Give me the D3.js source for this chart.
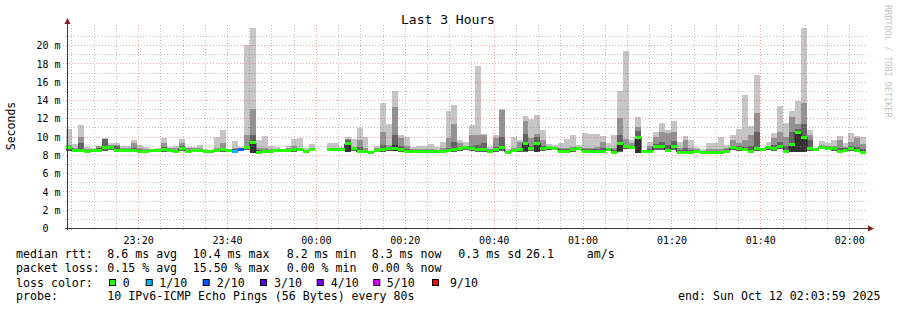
<!DOCTYPE html>
<html><head><meta charset="utf-8">
<script src="https://cdn.jsdelivr.net/npm/d3@7"></script>
<style>
body{margin:0;background:#fff}
svg text{font-family:"DejaVu Sans Mono",monospace;white-space:pre}
</style>
</head><body><svg id="c" width="897" height="310"></svg>
<script>
// ---- data (ms) : one value per 80 s sample, null = no data ----
const median = [8.75,8.45,8.5,8.4,8.45,8.5,8.75,8.8,8.5,8.45,
8.45,8.45,8.35,8.35,8.45,8.45,8.55,8.45,8.35,8.65,
8.4,8.5,8.45,8.42,8.42,8.45,8.55,8.45,8.38,8.58,
8.75,9.3,8.25,8.42,8.35,8.45,8.45,8.45,8.55,8.55,
8.42,8.6,null,null,8.6,8.6,8.6,9.2,8.65,8.35,
8.35,8.3,8.45,8.55,8.7,8.7,8.55,8.35,8.35,8.35,
8.35,8.35,8.35,8.42,8.5,8.6,8.7,8.8,8.7,8.55,
8.55,8.35,8.55,8.8,8.3,8.52,8.55,9.2,8.65,9.2,
8.7,8.8,8.7,8.42,8.42,8.55,8.72,8.42,8.42,8.4,
8.42,8.6,8.28,9.2,8.9,8.8,9.95,8.35,8.35,8.9,
8.9,8.52,8.9,8.3,8.3,8.3,8.35,8.3,8.3,8.3,
8.3,8.42,8.8,8.7,8.6,8.42,8.7,8.55,8.8,8.7,
8.9,8.35,9.1,10.4,9.95,8.7,8.62,8.85,8.7,8.65,
8.42,8.52,8.7,8.52,8.3];
const lossPings = [0,0,0,0,0,0,0,0,0,0, 0,0,0,0,0,0,0,0,0,0, 0,0,0,0,0,0,0,0,0.45,1.55,
0,0,0,0,0,0,0,0,0,0, 0,0,null,null,0,0,0,0,0,0, 0,0,0,0,0,0,0,0,0,0,
0,0,0,0,0,0,0,0,0,0, 0,0,0,0,0,0,0,0,0,0, 0,0,0,0,0,0,0,0,0,0,
0,0,0,0,0,0,0,0,0,0, 0,0,0,0,0,0,0,0,0,0, 0,0,0,0,0,0,0,0,0,0,
0,0,0,0,0,0,0,0,0,0, 0,0,0,0,0];
const smokeBottom = [8.4,8.35,8.35,8.3,8.3,8.4,8.45,8.5,8.35,8.35,
8.35,8.3,8.25,8.25,8.35,8.35,8.35,8.3,8.25,8.4,
8.3,8.35,8.35,8.3,8.25,8.3,8.35,8.3,8.3,8.4,
8.5,8.25,8.2,8.3,8.25,8.35,8.3,8.3,8.35,8.4,
8.3,8.45,null,null,8.45,8.4,8.4,8.35,8.45,8.25,
8.25,8.2,8.3,8.3,8.45,8.4,8.35,8.25,8.25,8.25,
8.25,8.25,8.25,8.3,8.3,8.35,8.45,8.55,8.45,8.35,
8.35,8.25,8.35,8.45,8.2,8.35,8.35,8.35,8.4,8.35,
8.45,8.55,8.5,8.3,8.3,8.35,8.5,8.3,8.3,8.3,
8.3,8.4,8.2,8.3,8.6,8.6,8.2,8.25,8.25,8.55,
8.55,8.35,8.55,8.2,8.2,8.2,8.25,8.2,8.2,8.2,
8.2,8.3,8.5,8.45,8.4,8.3,8.4,8.4,8.55,8.45,
8.6,8.25,8.3,8.3,8.3,8.45,8.5,8.6,8.5,8.45,
8.3,8.35,8.45,8.35,8.2];
const smokeTop1 = [10.8,9.2,11.25,8.9,8.8,8.95,9.8,9.3,9.3,9.0,
9.0,9.65,9.1,8.9,8.6,8.8,9.85,8.9,8.95,9.75,
8.9,8.9,9.1,8.65,8.55,9.9,10.7,8.65,9.55,8.9,
20.0,21.85,9.6,10.05,9.0,8.9,8.55,9.0,9.75,9.85,
8.75,9.2,null,null,9.25,9.25,8.9,9.95,9.75,10.95,
9.9,8.4,9.0,13.7,11.35,15.0,10.2,10.0,8.9,8.95,
8.95,9.2,8.9,9.45,12.8,13.45,9.6,9.45,11.25,17.7,
10.3,8.9,10.2,13.0,8.6,10.0,9.6,12.3,11.9,12.4,
10.75,9.2,9.1,9.35,9.75,10.15,9.1,10.4,10.3,10.3,
10.05,9.25,10.15,15.0,19.35,9.6,12.1,8.45,9.45,10.45,
11.45,10.75,11.7,9.4,10.1,9.6,8.8,8.6,9.25,9.25,
10.0,9.05,10.15,10.85,14.55,11.2,16.7,8.7,9.45,10.4,
13.35,11.45,12.75,13.9,21.85,10.75,8.7,9.5,9.25,9.6,
10.05,9.25,10.35,10.05,9.95];
const smokeTop2 = [9.1,8.7,9.95,8.6,8.6,8.95,9.75,9.1,9.05,8.7,
8.8,9.25,8.7,8.6,8.55,8.6,9.25,8.7,8.7,9.3,
8.7,8.7,8.75,8.55,8.5,8.8,9.3,8.55,8.8,8.7,
10.15,13.0,8.8,8.75,8.6,8.6,8.5,8.75,9.0,8.75,
8.55,8.8,null,null,8.8,8.8,8.75,9.75,8.9,9.65,
8.7,8.35,8.7,10.5,9.1,13.25,9.85,8.95,8.6,8.6,
8.6,8.6,8.55,8.7,9.8,11.4,9.25,9.0,10.15,10.2,
10.2,8.6,9.85,12.95,8.4,8.8,9.4,11.65,9.8,10.25,
9.6,8.95,8.85,8.75,8.8,8.9,8.9,8.8,8.8,8.9,
9.45,8.8,8.75,12.05,9.7,9.35,11.0,8.4,9.0,9.95,
10.55,10.35,10.45,8.7,9.6,8.7,8.6,8.45,8.6,8.6,
8.6,8.8,9.6,9.25,9.6,10.2,12.6,8.62,9.0,9.8,
10.55,10.0,12.1,11.4,13.65,10.2,8.66,9.1,8.95,8.95,
9.6,8.9,9.45,9.8,9.2];
const smokeTop3 = [8.9,8.55,9.3,8.5,8.5,8.8,9.7,9.0,9.0,8.55,
8.6,8.8,8.5,8.45,8.5,8.5,8.9,8.55,8.5,9.0,
8.5,8.6,8.6,8.5,8.47,8.6,8.8,8.5,8.6,8.65,
9.0,10.15,8.5,8.55,8.45,8.5,8.47,8.6,8.75,8.65,
8.5,8.7,null,null,8.65,8.7,8.65,9.6,8.75,8.9,
8.5,8.32,8.55,9.1,8.9,10.15,9.0,8.6,8.45,8.45,
8.45,8.45,8.45,8.5,8.8,9.45,8.9,8.9,9.0,9.1,
9.3,8.45,8.9,10.0,8.35,8.6,8.8,10.3,9.0,9.9,
9.0,8.9,8.8,8.6,8.6,8.7,8.8,8.6,8.6,8.6,
8.8,8.7,8.5,10.15,9.1,9.0,10.6,8.38,8.6,9.2,
9.4,9.1,9.5,8.5,8.8,8.5,8.45,8.38,8.45,8.45,
8.45,8.6,9.0,9.0,8.9,9.0,10.5,8.58,8.9,9.1,
9.4,9.0,10.55,10.8,11.4,9.6,8.64,9.0,8.85,8.8,
8.8,8.7,9.0,8.9,8.6];
// darkest smoke band, only where it shows outside the median band
const coreSample = [31,47,55,77,79,93,96,122,123,124];
const coreLow    = [8.25,8.35,8.45,8.45,8.35,8.4,8.25,8.3,8.35,8.3];
const coreHigh   = [9.55,9.05,9.05,9.1,9.15,9.1,9.85,9.0,10.3,9.85];

const yTickValues = [0,2,4,6,8,10,12,14,16,18,20];
const yTickLabels = ["0  ","2 m","4 m","6 m","8 m","10 m","12 m","14 m","16 m","18 m","20 m"];
const timeTickLabels = ["23:20","23:40","00:00","00:20","00:40","01:00","01:20","01:40","02:00"];
const lossLevels = [0,1,2,3,4,5,9];
const lossLabels = ["0","1/10","2/10","3/10","4/10","5/10","9/10"];
const lossColors = ["#26ff00","#00b8ff","#0059ff","#5e00ff","#7e00ff","#dd00ff","#ff0000"];

// ---- scales ----
const N = median.length;
const stepMs = 80000;
const sampleStart = new Date(2025,9,11,23,3,50).getTime();
const tAt = i => new Date(sampleStart + i*stepMs);
const x = d3.scaleTime().domain([new Date(2025,9,11,23,4,0), new Date(2025,9,12,2,4,0)]).range([67,867]);
const y = d3.scaleLinear().domain([0,22.2]).range([228,25]);
const X0 = 67, X1 = 867, Y0 = 228, YT = 25;

const svg = d3.select("#c");
svg.append("rect").attr("width",897).attr("height",310).attr("fill","#fff");

// ---- smoke ----
const gData = svg.append("g").attr("shape-rendering","crispEdges");
const idx = d3.range(N).filter(i => median[i] != null);
[[smokeTop1,"#c6c6c6"],[smokeTop2,"#939393"],[smokeTop3,"#626262"]].forEach(([arr,col]) => {
  gData.append("g").selectAll("rect").data(idx).join("rect")
    .attr("x", i => x(tAt(i))).attr("width", i => x(tAt(i+1)) - x(tAt(i)))
    .attr("y", i => y(arr[i])).attr("height", i => Math.max(0, y(smokeBottom[i]) - y(arr[i])))
    .attr("fill", col);
});
gData.append("g").selectAll("rect").data(d3.range(coreSample.length)).join("rect")
  .attr("x", k => x(tAt(coreSample[k]))).attr("width", k => x(tAt(coreSample[k]+1)) - x(tAt(coreSample[k])))
  .attr("y", k => y(coreHigh[k])).attr("height", k => y(coreLow[k]) - y(coreHigh[k]))
  .attr("fill", "#323232");

// ---- grid (drawn over the smoke as rrdtool does) ----
const gGrid = svg.append("g").attr("shape-rendering","crispEdges");
const minorY = d3.range(1,22,2);
gGrid.selectAll(".hmin").data(minorY).join("line")
  .attr("x1",X0-2).attr("x2",X1).attr("y1",d=>Math.round(y(d))+0.5).attr("y2",d=>Math.round(y(d))+0.5)
  .attr("stroke","rgba(140,140,140,0.55)").attr("stroke-dasharray","1,2");
gGrid.selectAll(".hmaj").data(yTickValues.slice(1)).join("line")
  .attr("x1",X0-4).attr("x2",X1).attr("y1",d=>Math.round(y(d))+0.5).attr("y2",d=>Math.round(y(d))+0.5)
  .attr("stroke","rgba(224,80,80,0.5)").attr("stroke-dasharray","1,2");
const minorT = d3.timeMinute.every(5).range(x.domain()[0], x.domain()[1]).filter(d => d.getMinutes() % 20 !== 0);
gGrid.selectAll(".vmin").data(minorT).join("line")
  .attr("x1",d=>Math.round(x(d))+0.5).attr("x2",d=>Math.round(x(d))+0.5).attr("y1",YT).attr("y2",Y0+2)
  .attr("stroke","rgba(140,140,140,0.55)").attr("stroke-dasharray","1,2");
const tickDates = timeTickLabels.map(s => { const [h,m] = s.split(":").map(Number); return new Date(2025,9,h>=12?11:12,h,m,0); });
gGrid.selectAll(".vmaj").data(tickDates).join("line")
  .attr("x1",d=>Math.round(x(d))+0.5).attr("x2",d=>Math.round(x(d))+0.5).attr("y1",YT).attr("y2",Y0+4)
  .attr("stroke","rgba(224,80,80,0.5)").attr("stroke-dasharray","1,2");

// ---- median line + loss coloured band ----
const pts = [];
idx.forEach((i,k) => {
  pts.push({t:tAt(i), v:median[i]});
  if (k === idx.length-1 || idx[k+1] !== i+1) { pts.push({t:tAt(i+1), v:median[i]}); pts.push(null); }
});
svg.append("path").attr("d", d3.line().defined(d=>d!==null).x(d=>x(d.t)).y(d=>y(d.v)).curve(d3.curveStepAfter)(pts))
  .attr("fill","none").attr("stroke","#202020").attr("stroke-width",1);
const lossColor = l => { for (let k=0;k<lossLevels.length;k++) if (l <= lossLevels[k]) return lossColors[k]; return lossColors[lossColors.length-1]; };
svg.append("g").attr("shape-rendering","crispEdges").selectAll("rect").data(idx).join("rect")
  .attr("x", i => x(tAt(i))).attr("width", i => x(tAt(i+1)) - x(tAt(i)))
  .attr("y", i => y(median[i]) - 1.5).attr("height", 3)
  .attr("fill", i => lossColor(lossPings[i]));

// ---- axes ----
const ax = svg.append("g").attr("transform",`translate(0,${Y0})`)
  .call(d3.axisBottom(x).tickValues(tickDates).tickFormat(d3.timeFormat("%H:%M")).tickSize(0).tickPadding(9));
ax.select(".domain").remove();
ax.selectAll("text").attr("font-size",10).attr("fill","#000").attr("font-family","DejaVu Sans Mono");
const ay = svg.append("g").attr("transform",`translate(${X0-6.5},0)`)
  .call(d3.axisLeft(y).tickValues(yTickValues).tickFormat((d,k)=>yTickLabels[k]).tickSize(0).tickPadding(0));
ay.select(".domain").remove();
ay.selectAll("text").attr("font-size",10).attr("fill","#000").attr("font-family","DejaVu Sans Mono").attr("dy","0.36em");

svg.append("line").attr("x1",X0+0.5).attr("x2",X0+0.5).attr("y1",Y0+2).attr("y2",YT-3)
  .attr("stroke","#3a3a3a").attr("shape-rendering","crispEdges");
svg.append("line").attr("x1",X0-2).attr("x2",X1+2).attr("y1",Y0+0.5).attr("y2",Y0+0.5)
  .attr("stroke","#3a3a3a").attr("shape-rendering","crispEdges");
svg.append("path").attr("d",`M${X0+0.5},${YT-7} L${X0+3.5},${YT-1} L${X0-2.5},${YT-1} Z`).attr("fill","#801f1f");
svg.append("path").attr("d",`M${X1+7},${Y0+0.5} L${X1+1},${Y0-2.5} L${X1+1},${Y0+3.5} Z`).attr("fill","#801f1f");

// ---- texts ----
svg.append("text").attr("x",448).attr("y",24).attr("text-anchor","middle").attr("font-size",13).text("Last 3 Hours");
svg.append("text").attr("transform","translate(15,126) rotate(-90)").attr("text-anchor","middle").attr("font-size",11.5).text("Seconds");
svg.append("text").attr("transform","translate(885,5) rotate(90)").attr("font-size",8.5).attr("fill","#c4c4c4").text("RRDTOOL / TOBI OETIKER");

const L = svg.append("g").attr("font-size",11.6).attr("fill","#000");
const legendRows = [
  [258.3, [[16,"median rtt:"],[107.3,"8.6 ms avg"],[192.7,"10.4 ms max"],[286.7,"8.2 ms min"],[371.7,"8.3 ms now"],[458.3,"0.3 ms sd"],[526,"26.1"],[586.7,"am/s"]]],
  [272.3, [[16,"packet loss:"],[107.3,"0.15 % avg"],[192.7,"15.50 % max"],[286.7,"0.00 % min"],[371.7,"0.00 % now"]]],
  [286.5, [[16,"loss color:"]]],
  [300.3, [[16,"probe:"],[107.3,"10 IPv6-ICMP Echo Pings (56 Bytes) every 80s"]]]
];
legendRows.forEach(([yy,items]) => items.forEach(([xx,s]) => L.append("text").attr("x",xx).attr("y",yy).text(s)));
const boxX = [109,145.7,202.7,260,316.7,373.3,432];
const boxLabelX = [122.7,159.3,216.7,274,330.7,386.7,450];
lossLabels.forEach((s,k) => {
  L.append("rect").attr("x",boxX[k]+0.5).attr("y",279.5).attr("width",6).attr("height",6)
    .attr("fill",lossColors[k]).attr("stroke","#000").attr("stroke-width",1);
  L.append("text").attr("x",boxLabelX[k]).attr("y",286.5).text(s);
});
L.append("text").attr("x",880.5).attr("y",300.3).attr("text-anchor","end").text("end: Sun Oct 12 02:03:59 2025");
</script>
</body></html>
